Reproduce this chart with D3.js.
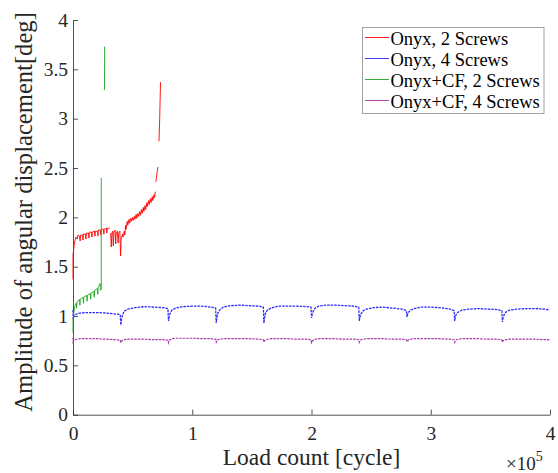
<!DOCTYPE html>
<html>
<head>
<meta charset="utf-8">
<script src="https://d3js.org/d3.v7.min.js"></script>
<style>
  body { margin: 0; background: #fff; }
  svg { display: block; }
  .axis path, .axis line { stroke: #262626; stroke-width: 0.8; }
</style>
</head>
<body>
<script>
// Series names and colours (legend order)
const seriesNames  = ['Onyx, 2 Screws', 'Onyx, 4 Screws', 'Onyx+CF, 2 Screws', 'Onyx+CF, 4 Screws'];
const seriesColors = ['#ff0000', '#2b2bff', '#1fa51f', '#a83aa8'];

const xTicks = [0, 1e5, 2e5, 3e5, 4e5];
const yTicks = [0, 0.5, 1, 1.5, 2, 2.5, 3, 3.5, 4];

// Onyx, 2 Screws (null = gap)
const redCycles = [0, 0, 800, 1500, 2500, 3500, 4000, 5500, 6000, 6300, 8000, 8400, 8700,
  10500, 10900, 11200, 13000, 13400, 13700, 15500, 15900, 16200, 18000, 18400, 18700,
  20500, 20900, 21200, 23000, 23400, 23700, 25500, 25900, 26200, 28000, 28400, 28700, 30800, 30800,
  31600, 32100, 32600, 33300, 33800, 34300, 35300, 35800, 36300, 37300, 37800, 38300, 39300, 39900,
  40400, 41500, 42000, 43000, 43400, 44200, 44600, 45500, 45900, 47000, 47400, 48500, 48900,
  50000, 50400, 51500, 51900, 53000, 53400, 54500, 54900, 56000, 56400, 57500, 57900,
  59000, 59400, 60500, 60900, 62000, 62400, 63500, 63900, 65000, 65400, 66500, 66900,
  68000, 68400, 69000, 69000, 69500, 70300, 71200, 71200, 72100, 72700, 73400];
const redValues = [1.37, 1.62, 1.70, 1.76, 1.80, 1.78, 1.82, 1.81, 1.76, 1.82, 1.82, 1.77, 1.83,
  1.83, 1.78, 1.84, 1.84, 1.79, 1.85, 1.85, 1.80, 1.85, 1.86, 1.81, 1.86,
  1.86, 1.81, 1.87, 1.87, 1.82, 1.88, 1.88, 1.83, 1.88, 1.89, 1.84, 1.89, 1.89, null,
  1.84, 1.70, 1.84, 1.86, 1.71, 1.85, 1.87, 1.73, 1.85, 1.86, 1.74, 1.84, 1.86, 1.61,
  1.78, 1.83, 1.80, 1.86, 1.82, 1.92, 1.88, 1.96, 1.92, 1.98, 1.94, 1.99, 1.96,
  2.00, 1.97, 2.01, 1.98, 2.03, 1.99, 2.04, 2.01, 2.06, 2.02, 2.08, 2.04,
  2.10, 2.06, 2.12, 2.08, 2.15, 2.11, 2.17, 2.13, 2.19, 2.15, 2.21, 2.17,
  2.23, 2.20, 2.26, null, 2.36, 2.44, 2.51, null, 2.77, 3.00, 3.37];

// Onyx+CF, 2 Screws
const greenCycles = [0, 0, 800, 1500, 2700, 3000, 3300, 5500, 5800, 6100, 8500, 8800, 9100,
  11500, 11800, 12100, 14500, 14800, 15100, 17500, 17800, 18100, 20500, 20800, 21100,
  22800, 23000, 23700, 23700, 23700, 26400, 26500];
const greenValues = [0.83, 0.96, 1.04, 1.10, 1.13, 1.08, 1.14, 1.17, 1.11, 1.17, 1.19, 1.13, 1.19,
  1.21, 1.15, 1.21, 1.23, 1.17, 1.23, 1.25, 1.19, 1.26, 1.28, 1.22, 1.29,
  1.33, 1.26, 1.27, 2.40, null, 3.29, 3.73];

// 4-screw tests were logged in blocks of 40000 cycles
const blockStarts  = [0, 40000, 80000, 120000, 160000, 200000, 240000, 280000, 320000, 360000];
const blockOffsets = [100, 600, 1500, 3000, 6000, 12000, 20000, 28000, 36000, 39600];

// Onyx, 4 Screws (one row per block)
const blueStart = 1.06;
const blueBlocks = [
  [0.97, 1.00, 1.01, 1.02, 1.03, 1.035, 1.035, 1.03, 1.02, 1.015],
  [0.91, 0.96, 1.01, 1.05, 1.07, 1.085, 1.095, 1.09, 1.085, 1.075],
  [0.95, 0.99, 1.03, 1.06, 1.08, 1.095, 1.10, 1.10, 1.09, 1.08],
  [0.93, 0.98, 1.03, 1.06, 1.09, 1.105, 1.11, 1.105, 1.10, 1.09],
  [0.93, 0.98, 1.03, 1.06, 1.08, 1.10, 1.10, 1.10, 1.095, 1.09],
  [0.98, 1.02, 1.05, 1.08, 1.10, 1.11, 1.11, 1.105, 1.10, 1.09],
  [0.95, 0.99, 1.02, 1.05, 1.07, 1.085, 1.09, 1.08, 1.07, 1.055],
  [0.99, 1.02, 1.04, 1.06, 1.075, 1.09, 1.09, 1.085, 1.07, 1.055],
  [0.95, 0.99, 1.02, 1.04, 1.06, 1.07, 1.075, 1.07, 1.065, 1.055],
  [0.94, 0.98, 1.01, 1.04, 1.06, 1.07, 1.075, 1.075, 1.07, 1.06]
];

// Onyx+CF, 4 Screws
const purpleStart = 0.78;
const purpleBlocks = [
  [0.72, 0.75, 0.76, 0.765, 0.77, 0.77, 0.77, 0.765, 0.76, 0.755],
  [0.73, 0.745, 0.755, 0.76, 0.765, 0.765, 0.765, 0.76, 0.76, 0.755],
  [0.73, 0.75, 0.76, 0.77, 0.775, 0.775, 0.775, 0.77, 0.77, 0.765],
  [0.735, 0.75, 0.76, 0.765, 0.77, 0.77, 0.77, 0.77, 0.765, 0.76],
  [0.735, 0.75, 0.76, 0.765, 0.77, 0.77, 0.77, 0.765, 0.765, 0.76],
  [0.73, 0.745, 0.755, 0.765, 0.77, 0.77, 0.77, 0.765, 0.765, 0.76],
  [0.735, 0.75, 0.76, 0.765, 0.77, 0.77, 0.77, 0.765, 0.765, 0.76],
  [0.74, 0.75, 0.76, 0.765, 0.77, 0.77, 0.77, 0.77, 0.765, 0.76],
  [0.735, 0.75, 0.76, 0.765, 0.77, 0.77, 0.77, 0.765, 0.765, 0.76],
  [0.735, 0.75, 0.755, 0.76, 0.765, 0.765, 0.765, 0.765, 0.76, 0.76]
];

const SERIF = "'Liberation Serif', 'Times New Roman', serif";

var svg, plot, x, y;

{
  const width = 558, height = 473;
  const left = 73, right = 550, top = 20, bottom = 414.7;

  svg = d3.select('body').append('svg')
      .attr('width', width)
      .attr('height', height)
      .style('font-family', SERIF);

  x = d3.scaleLinear().domain([0, 4e5]).range([left, right]);
  y = d3.scaleLinear().domain([0, 4]).range([bottom, top]);

  const xAxis = svg.append('g')
      .attr('class', 'axis')
      .attr('transform', 'translate(0,' + bottom + ')')
      .call(d3.axisBottom(x)
        .tickValues(xTicks)
        .tickFormat(function(d) { return d / 1e5; })
        .tickSizeInner(-5)
        .tickSizeOuter(0)
        .tickPadding(11.5));

  const yAxis = svg.append('g')
      .attr('class', 'axis')
      .attr('transform', 'translate(' + left + ',0)')
      .call(d3.axisLeft(y)
        .tickValues(yTicks)
        .tickFormat(function(d) { return String(d); })
        .tickSizeInner(-5)
        .tickSizeOuter(0)
        .tickPadding(5));

  [xAxis, yAxis].forEach(function(ax) {
    ax.attr('font-family', SERIF).attr('font-size', 19.5);
    ax.selectAll('text')
        .style('font-family', SERIF)
        .style('font-size', '19.5px')
        .attr('fill', '#262626');
  });

  plot = svg.append('g');

  // dashes stand in for the fine per-cycle ripple of the 4-screw logs
  const series = [
    {name: seriesNames[0], color: seriesColors[0], pts: pairs(redCycles, redValues), dash: null, w: 0.9},
    {name: seriesNames[1], color: seriesColors[1], pts: blocks(blueStart, blueBlocks), dash: '2.5,1', w: 1.3},
    {name: seriesNames[2], color: seriesColors[2], pts: pairs(greenCycles, greenValues), dash: null, w: 0.9},
    {name: seriesNames[3], color: seriesColors[3], pts: blocks(purpleStart, purpleBlocks), dash: '2.5,1', w: 1.2}
  ];

  const line = d3.line()
      .defined(function(d) { return d[1] !== null; })
      .x(function(d) { return x(d[0]); })
      .y(function(d) { return y(d[1]); });

  plot.selectAll('path')
      .data(series)
    .enter().append('path')
      .attr('d', function(d) { return line(d.pts); })
      .attr('fill', 'none')
      .attr('stroke', function(d) { return d.color; })
      .attr('stroke-width', function(d) { return d.w; })
      .attr('stroke-dasharray', function(d) { return d.dash; });

  // axis labels
  svg.append('text')
      .attr('x', (left + right) / 2)
      .attr('y', 465)
      .attr('text-anchor', 'middle')
      .attr('fill', '#262626')
      .style('font-family', SERIF)
      .style('font-size', '23.5px')
      .text('Load count [cycle]');

  svg.append('text')
      .attr('transform', 'translate(32,411.7) rotate(-90)')
      .attr('text-anchor', 'start')
      .attr('fill', '#262626')
      .style('font-family', SERIF)
      .style('font-size', '24.6px')
      .text('Amplitude of angular displacement[deg]');

  const mult = svg.append('text')
      .attr('x', 506)
      .attr('y', 470)
      .attr('fill', '#262626')
      .style('font-family', SERIF)
      .style('font-size', '19px');
  mult.append('tspan').text('\u00d710');
  mult.append('tspan')
      .attr('dy', -9)
      .style('font-size', '14px')
      .text('5');

  // legend
  const legend = svg.append('g');
  legend.append('rect')
      .attr('x', 362.5)
      .attr('y', 27.5)
      .attr('width', 181.5)
      .attr('height', 86)
      .attr('fill', '#fff')
      .attr('stroke', '#8c8c8c')
      .attr('stroke-width', 0.8);

  const rows = legend.selectAll('g.row')
      .data(series)
    .enter().append('g')
      .attr('class', 'row')
      .attr('transform', function(d, i) { return 'translate(0,' + (37.5 + i * 21) + ')'; });
  rows.append('line')
      .attr('x1', 365).attr('x2', 389)
      .attr('stroke', function(d) { return d.color; })
      .attr('stroke-width', 0.9);
  rows.append('text')
      .attr('x', 390.5)
      .attr('y', 7)
      .attr('fill', '#000')
      .style('font-family', SERIF)
      .style('font-size', '18.5px')
      .text(function(d) { return d.name; });
}

function pairs(cycles, values) {
  return cycles.map(function(c, i) { return [c, values[i]]; });
}

function blocks(startValue, rows) {
  const pts = [[0, startValue]];
  rows.forEach(function(row, b) {
    row.forEach(function(v, j) {
      pts.push([blockStarts[b] + blockOffsets[j], v]);
    });
  });
  return pts;
}
</script>
</body>
</html>
